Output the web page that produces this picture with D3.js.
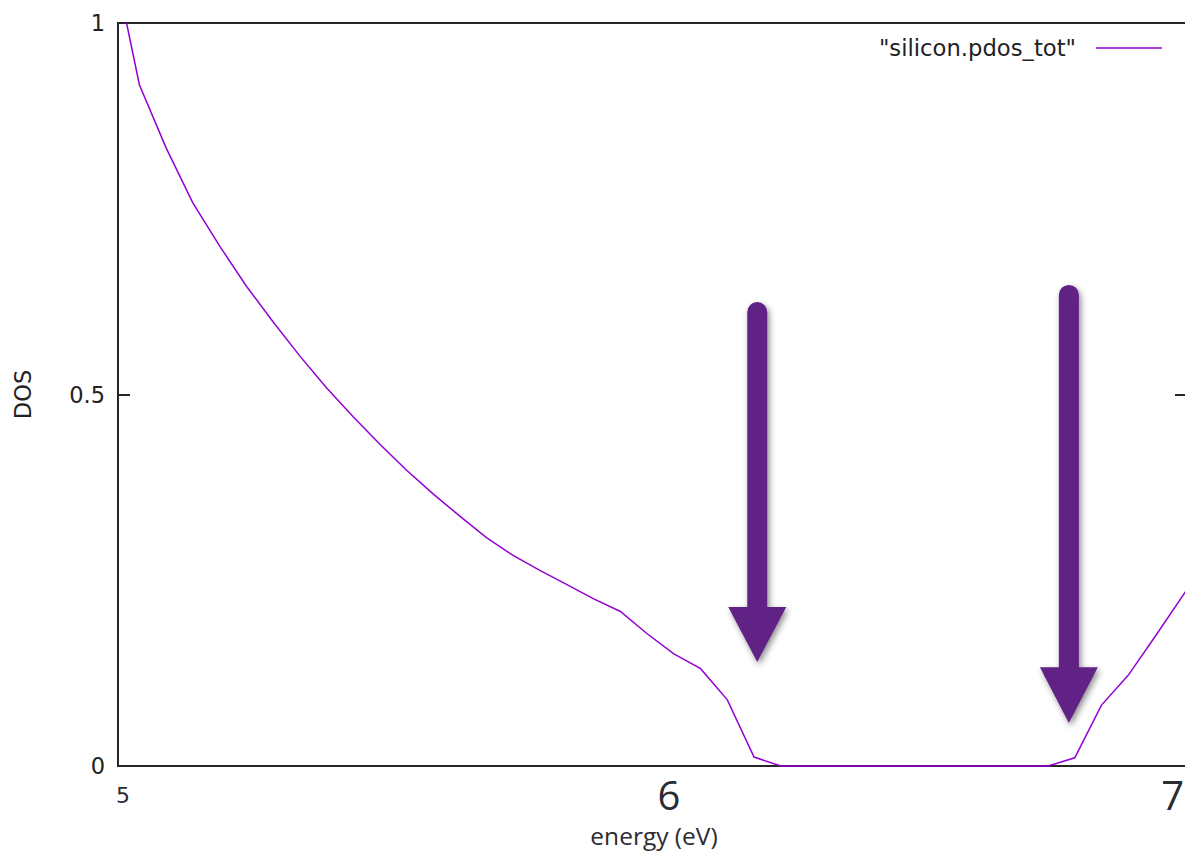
<!DOCTYPE html>
<html>
<head>
<meta charset="utf-8">
<script src="https://cdn.jsdelivr.net/npm/d3@7"></script>
<style>
  html, body { margin: 0; padding: 0; background: #fff; }
  svg { display: block; }
</style>
</head>
<body>
<svg id="chart" width="1185" height="852"></svg>
<script>
// ---- data ----
const energy = [4.99, 5.04, 5.09, 5.14, 5.19, 5.24, 5.29, 5.34, 5.39, 5.44, 5.49,
  5.54, 5.59, 5.64, 5.69, 5.74, 5.79, 5.84, 5.89, 5.94, 5.99, 6.04, 6.09, 6.14,
  6.19, 6.24, 6.29, 6.34, 6.39, 6.44, 6.49, 6.54, 6.59, 6.64, 6.69, 6.74, 6.79,
  6.84, 6.89, 6.94, 6.99, 7.04];
const dos = [1.09, 0.917, 0.832, 0.758, 0.700, 0.646, 0.598, 0.552, 0.509, 0.470, 0.433,
  0.398, 0.366, 0.336, 0.307, 0.283, 0.263, 0.244, 0.225, 0.208, 0.178, 0.151, 0.131, 0.089,
  0.012, 0, 0, 0, 0, 0, 0, 0, 0, 0, 0, 0, 0.011,
  0.082, 0.122, 0.174, 0.227, 0.280];
const xTicks = [5, 6, 7];
const yTicks = [0, 0.5, 1];
const yTickLabels = ["0", "0.5", "1"];
const seriesName = '"silicon.pdos_tot"';
const xLabel = "energy (eV)";
const yLabel = "DOS";
// annotation arrows: energy position, top value, head base value, tip value
const arrowX = [6.196, 6.779];
const arrowTop = [0.611, 0.634];
const arrowHeadBase = [0.214, 0.133];
const arrowTip = [0.140, 0.058];

// ---- layout ----
const svg = d3.select("#chart");
const L = 118, R = 1187, T = 23, B = 766;
const x = d3.scaleLinear().domain([5, 7]).range([L, R]);
const y = d3.scaleLinear().domain([0, 1]).range([B, T]);

const defs = svg.append("defs");
defs.append("clipPath").attr("id", "plotclip")
  .append("rect").attr("x", L).attr("y", T).attr("width", R - L).attr("height", B - T + 4);
const f = defs.append("filter").attr("id", "shadow")
  .attr("x", "-50%").attr("y", "-20%").attr("width", "200%").attr("height", "140%");
f.append("feDropShadow").attr("dx", 2).attr("dy", 3).attr("stdDeviation", 3)
  .attr("flood-color", "#000").attr("flood-opacity", 0.45);

// border (left, top, bottom; right edge off-canvas)
const borderColor = "#262626";
svg.append("path")
  .attr("d", `M${R},${T}H${L}V${B}H${R}`)
  .attr("fill", "none").attr("stroke", borderColor).attr("stroke-width", 2);

// y ticks inward (left & right) via axes
const yAxisL = d3.axisRight(y).tickValues([0.5]).tickSize(12).tickFormat("");
svg.append("g").attr("transform", `translate(${L},0)`).call(yAxisL)
  .call(g => g.select(".domain").remove())
  .call(g => g.selectAll("line").attr("stroke", borderColor).attr("stroke-width", 2));
const yAxisR = d3.axisLeft(y).tickValues([0.5]).tickSize(12).tickFormat("");
svg.append("g").attr("transform", `translate(${R},0)`).call(yAxisR)
  .call(g => g.select(".domain").remove())
  .call(g => g.selectAll("line").attr("stroke", borderColor).attr("stroke-width", 2));

// y tick labels
svg.append("g").selectAll("text").data(yTicks).join("text")
  .attr("x", 105).attr("y", d => y(d)).attr("dy", "0.36em")
  .attr("text-anchor", "end")
  .attr("font-family", "DejaVu Sans, sans-serif").attr("font-size", 22.5)
  .attr("fill", "#222")
  .text((d, i) => yTickLabels[i]);

// x tick labels: first small, others large
svg.append("g").selectAll("text").data(xTicks).join("text")
  .attr("x", d => x(d) + (d === xTicks[0] ? 5 : (d === xTicks[xTicks.length - 1] ? -3 : 5)))
  .attr("y", (d, i) => i === 0 ? 803 : 810)
  .attr("text-anchor", (d, i) => i === 0 ? "middle" : (i === xTicks.length - 1 ? "end" : "start"))
  .attr("font-family", (d, i) => i === 0 ? "DejaVu Sans, sans-serif" : "Open Sans, sans-serif")
  .attr("font-size", (d, i) => i === 0 ? 22 : 40)
  .attr("fill", "#2b2b33")
  .text(d => d);

// axis titles
svg.append("text")
  .attr("x", 654).attr("y", 845).attr("text-anchor", "middle")
  .attr("font-family", "Open Sans, sans-serif").attr("font-size", 24.5)
  .attr("fill", "#2b2b33").text(xLabel);
svg.append("text")
  .attr("transform", `translate(31,${y(0.5)}) rotate(-90)`)
  .attr("text-anchor", "middle")
  .attr("font-family", "DejaVu Sans, sans-serif").attr("font-size", 22.5)
  .attr("fill", "#222").text(yLabel);

// curve
const pts = energy.map((e, i) => [e, dos[i]]);
const line = d3.line().x(d => x(d[0])).y(d => y(d[1]));
const curveColor = "#9400d3";
svg.append("path").datum(pts)
  .attr("clip-path", "url(#plotclip)")
  .attr("d", line)
  .attr("fill", "none").attr("stroke", curveColor).attr("stroke-width", 1.5)
  .attr("stroke-linejoin", "miter");

// legend
svg.append("text")
  .attr("x", 1076).attr("y", 56).attr("text-anchor", "end")
  .attr("font-family", "DejaVu Sans, sans-serif").attr("font-size", 22.7)
  .attr("fill", "#222").text(seriesName);
svg.append("line")
  .attr("x1", 1096).attr("x2", 1162).attr("y1", 48).attr("y2", 48)
  .attr("stroke", curveColor).attr("stroke-width", 1.5);

// arrows
const arrowColor = "#612184";
const arrows = arrowX.map((ax, i) => ({ x: ax, top: arrowTop[i], base: arrowHeadBase[i], tip: arrowTip[i] }));
const ag = svg.append("g").attr("filter", "url(#shadow)");
arrows.forEach(a => {
  const cx = x(a.x);
  ag.append("line")
    .attr("x1", cx).attr("x2", cx)
    .attr("y1", y(a.top)).attr("y2", y(a.base) + 2)
    .attr("stroke", arrowColor).attr("stroke-width", 20).attr("stroke-linecap", "round");
  ag.append("path")
    .attr("d", `M${cx - 29},${y(a.base)}L${cx + 29},${y(a.base)}L${cx},${y(a.tip)}Z`)
    .attr("fill", arrowColor);
});
</script>
</body>
</html>
